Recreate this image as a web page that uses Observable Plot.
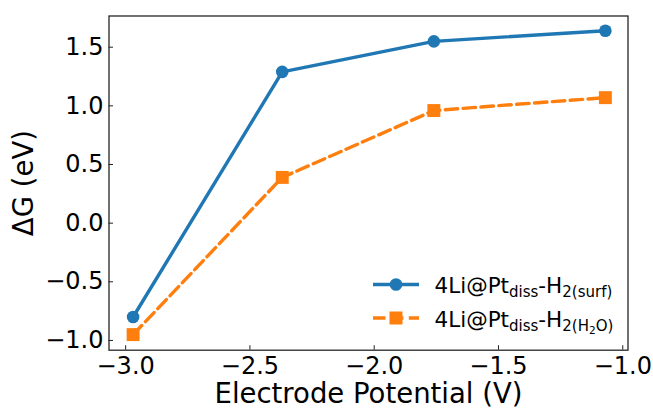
<!DOCTYPE html>
<html>
<head>
<meta charset="utf-8">
<script src="https://cdn.jsdelivr.net/npm/d3@7"></script>
<script src="https://cdn.jsdelivr.net/npm/@observablehq/plot@0.6"></script>
<style>
  html, body { margin: 0; padding: 0; background: #fff; }
  svg { display: block; }
</style>
</head>
<body>
<div id="chart"></div>
<script>
// ---- data ----
const potentials = [-2.97, -2.37, -1.76, -1.07];      // Electrode Potential (V)
const dgSurf     = [-0.80, 1.29, 1.55, 1.64];          // 4Li@Pt_diss-H2(surf)
const dgH2O      = [-0.95, 0.39, 0.96, 1.07];          // 4Li@Pt_diss-H2(H2O)
const xTicks = [-3.0, -2.5, -2.0, -1.5, -1.0];
const yTicks = [-1.0, -0.5, 0.0, 0.5, 1.0, 1.5];
const xLabel = "Electrode Potential (V)";
const yLabel = "ΔG (eV)";

// ---- layout ----
const W = 653, H = 408;
const mL = 108.5, mR = 25.5, mT = 15.5, mB = 58.3;
const plotW = W - mL - mR, plotH = H - mT - mB;
const tickLen = 4.5;
const BLUE = "#1f77b4", ORANGE = "#ff7f0e";
const fmt = d => d.toFixed(1).replace("-", "\u2212");

const surf = potentials.map((x, i) => ({x, y: dgSurf[i]}));
const h2o  = potentials.map((x, i) => ({x, y: dgH2O[i]}));

const plot = Plot.plot({
  width: W, height: H,
  marginLeft: mL, marginRight: mR, marginTop: mT, marginBottom: mB,
  style: {fontFamily: "DejaVu Sans", background: "#fff", color: "#000", fontSize: "24px"},
  x: {domain: [-3.067, -0.979]},
  y: {domain: [-1.083, 1.766]},
  marks: [
    Plot.axisX({ticks: xTicks, tickSize: 0, tickPadding: 7, fontSize: 24, tickFormat: fmt, label: null}),
    Plot.axisY({ticks: yTicks, tickSize: 0, tickPadding: 5.5, fontSize: 24, tickFormat: fmt, label: null}),
    Plot.ruleX(xTicks, {x: d => d, insetTop: plotH - tickLen, stroke: "#222", strokeWidth: 1}),
    Plot.ruleY(yTicks, {y: d => d, insetRight: plotW - tickLen, stroke: "#222", strokeWidth: 1}),
    Plot.line(surf, {x: "x", y: "y", stroke: BLUE, strokeWidth: 3.4}),
    Plot.dot(surf, {x: "x", y: "y", r: 6.3, fill: BLUE, stroke: "none"}),
    Plot.line(h2o, {x: "x", y: "y", stroke: ORANGE, strokeWidth: 3.4, strokeDasharray: "12.5,5.4"}),
    Plot.dot(h2o, {x: "x", y: "y", symbol: "square", r: 7.3, fill: ORANGE, stroke: "none"}),
    Plot.frame({stroke: "#262626", strokeWidth: 1.3}),
    Plot.text([xLabel], {text: d => d, frameAnchor: "bottom", textAnchor: "middle", lineAnchor: "bottom", dy: 52.8, fontSize: 27.5}),
    Plot.text([yLabel], {text: d => d, frameAnchor: "left", rotate: -90, textAnchor: "middle", lineAnchor: "bottom", dx: -76.5, fontSize: 27.5})
  ]
});

document.getElementById("chart").appendChild(plot);

// ---- legend ----
const svg = d3.select(plot);
const lg = svg.append("g").attr("font-family", "DejaVu Sans").attr("fill", "#000").attr("text-anchor", "start");
const items = [
  {color: BLUE, dash: null, marker: "circle", ly: 284.5, ty: 293,
   parts: [["4Li@Pt", 21.5, 0], ["diss", 15, 4.3], ["-H", 21.5, -4.3], ["2(surf)", 15, 4.3]]},
  {color: ORANGE, dash: "12.5,5.4", marker: "square", ly: 318, ty: 327,
   parts: [["4Li@Pt", 21.5, 0], ["diss", 15, 4.3], ["-H", 21.5, -4.3], ["2(H", 15, 4.3], ["2", 10.5, 3], ["O)", 15, -3]]}
];
for (const it of items) {
  const line = lg.append("line").attr("x1", 373).attr("x2", 419).attr("y1", it.ly).attr("y2", it.ly)
    .attr("stroke", it.color).attr("stroke-width", 3.4);
  if (it.dash) line.attr("stroke-dasharray", it.dash);
  if (it.marker === "circle") {
    lg.append("circle").attr("cx", 396).attr("cy", it.ly).attr("r", 6.3).attr("fill", it.color);
  } else {
    lg.append("rect").attr("x", 396 - 6.5).attr("y", it.ly - 6.5).attr("width", 13).attr("height", 13).attr("fill", it.color);
  }
  const t = lg.append("text").attr("x", 434.5).attr("y", it.ty).attr("text-anchor", "start");
  for (const [s, size, dy] of it.parts) {
    t.append("tspan").attr("font-size", size).attr("dy", dy).text(s);
  }
}
</script>
</body>
</html>
